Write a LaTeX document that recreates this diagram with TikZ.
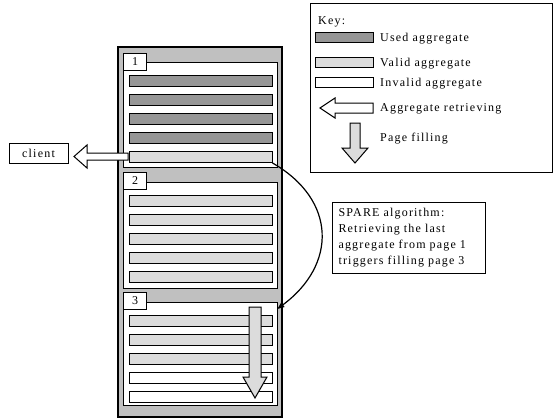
\documentclass[tikz,border=0pt]{standalone}
\usepackage{fontspec}
\setmainfont{Liberation Serif}[LetterSpace=10]
\usetikzlibrary{arrows.meta,positioning}
\definecolor{usedgray}{HTML}{969696}
\definecolor{validgray}{HTML}{DCDCDC}
\definecolor{framegray}{HTML}{C0C0C0}

\begin{document}
\begin{tikzpicture}[x=1pt, y=-1pt, node distance=7pt, every node/.style={font=\fontsize{12}{15.8}\selectfont}, frame/.style={draw,fill=framegray,line width=1.2pt,minimum width=164pt,minimum height=370pt,inner sep=0pt}, page/.style={draw,fill=white,line width=1pt,minimum width=154pt,inner sep=0pt}, tag/.style={draw,fill=white,line width=1pt,minimum width=23pt,minimum height=17pt,inner sep=0pt,anchor=north west}, bar/.style={draw,line width=1pt,minimum width=143pt,minimum height=11pt,inner sep=0pt}, used/.style={bar,fill=usedgray}, valid/.style={bar,fill=validgray}, invalid/.style={bar,fill=white}, keytext/.style={anchor=base west,inner sep=0pt}, box/.style={draw,fill=white,line width=1pt,inner sep=0pt}, blockarrow/.style={draw,line width=1pt,line join=miter}, >={Latex[length=8pt,width=6pt]}]
\useasboundingbox (0,0) rectangle (558,418);
\node[frame] (frame) at (200,232) {};
\node[page,minimum height=105pt] (pg1) at (200,114.5) {};
\node[page,minimum height=106pt] (pg2) at (200,235) {};
\node[page,minimum height=103pt] (pg3) at (200,353.5) {};
\node[tag] (t1) at (123,53) {1};
\node[tag] (t2) at (123,172) {2};
\node[tag] (t3) at (123,292) {3};
% page 1
\node[used,anchor=north] (p1a) at (200.5,75) {};
\node[used,below=of p1a] (p1b) {};
\node[used,below=of p1b] (p1c) {};
\node[used,below=of p1c] (p1d) {};
\node[valid,below=of p1d] (p1e) {};
% page 2
\node[valid,anchor=north] (p2a) at (200.5,195) {};
\node[valid,below=of p2a] (p2b) {};
\node[valid,below=of p2b] (p2c) {};
\node[valid,below=of p2c] (p2d) {};
\node[valid,below=of p2d] (p2e) {};
% page 3
\node[valid,anchor=north] (p3a) at (200.5,315) {};
\node[valid,below=of p3a] (p3b) {};
\node[valid,below=of p3b] (p3c) {};
\node[invalid,below=of p3c] (p3d) {};
\node[invalid,below=of p3d] (p3e) {};
\draw[blockarrow,fill=validgray] (249,307) -- (261,307) -- (261,377) -- (267,377) -- (255,398) -- (243,377) -- (249,377) -- cycle;
% client
\node[box,minimum width=59pt,minimum height=20pt] (client) at (38.5,153) {client};
\draw[blockarrow,fill=white] (128,153) -- (87,153) -- (87,145) -- (74,156.5) -- (87,168) -- (87,160) -- (128,160) -- cycle;
% key
\node[box,minimum width=242pt,minimum height=169pt] (key) at (431,87.5) {};
\node[keytext] (keyhead) at (318,24) {Key:};
\node[used,minimum width=58pt,minimum height=10pt] (kused) at (344,37) {};
\node[valid,minimum width=58pt,minimum height=10pt] (kvalid) at (344,62) {};
\node[invalid,minimum width=58pt,minimum height=10pt] (kinvalid) at (344,82) {};
\node[keytext] (lused) at (380,41) {Used aggregate};
\node[keytext] (lvalid) at (380,66) {Valid aggregate};
\node[keytext] (linvalid) at (380,86.5) {Invalid aggregate};
\node[keytext] (lretr) at (380,111) {Aggregate retrieving};
\node[keytext] (lfill) at (380,141) {Page filling};
\draw[blockarrow,fill=white] (373,103) -- (335,103) -- (335,98) -- (320,108) -- (335,118) -- (335,113) -- (373,113) -- cycle;
\draw[blockarrow,fill=validgray] (350,123) -- (360,123) -- (360,148) -- (368,148) -- (355,163) -- (342,148) -- (350,148) -- cycle;
% algorithm note
\node[box,minimum width=153pt,minimum height=71pt,text width=140pt,align=left] (note) at (408.5,237.5) {SPARE algorithm:\\Retrieving the last\\aggregate from page 1\\triggers filling page 3};
\draw[->,line width=1.2pt] (p1e.south east) .. controls (337,200) and (337,265) .. ([shift={(-1pt,-8pt)}]pg3.north east);
\end{tikzpicture}
\end{document}
